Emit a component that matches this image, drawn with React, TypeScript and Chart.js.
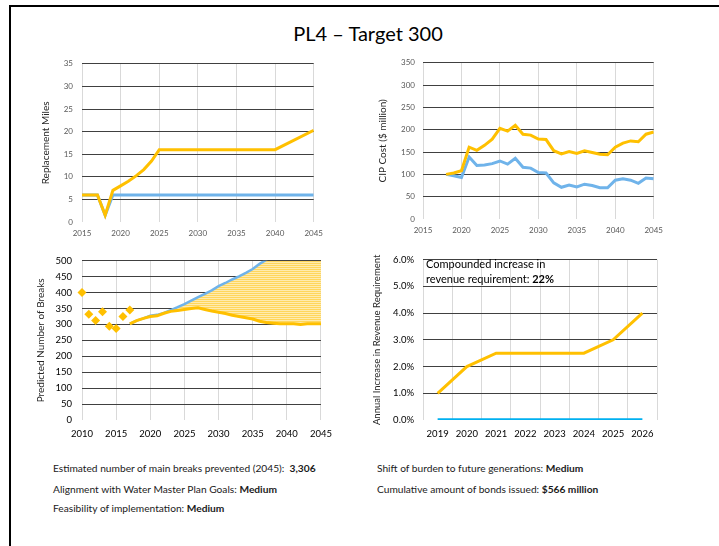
import React, { useEffect, useRef } from "react";
import { Chart, registerables } from "chart.js";
Chart.register(...registerables);

const FONT = "Lato, 'Liberation Sans', sans-serif";
const YELLOW = "#FFC000";
const BLUE = "#6FB3EA";
const BLUE2 = "#00B0F0";
const HGRID = "#404040";
const VGRID = "#d9d9d9";

// Panel 1 – Replacement Miles
const milesTargetYears = [2015, 2017, 2018, 2019, 2020, 2021, 2022, 2023, 2024, 2025, 2040, 2045];
const milesTarget = [6, 6, 1.5, 7, 8, 9, 10.2, 11.6, 13.5, 16, 16, 20.3];
const milesBaseYears = [2015, 2017, 2018, 2019, 2045];
const milesBase = [6, 6, 1.5, 6, 6];

// Panel 2 – CIP Cost ($ million)
const cipYears = [2018, 2019, 2020, 2021, 2022, 2023, 2024, 2025, 2026, 2027, 2028, 2029, 2030, 2031, 2032, 2033, 2034, 2035, 2036, 2037, 2038, 2039, 2040, 2041, 2042, 2043, 2044, 2045];
const cipTarget = [100, 103, 108, 161, 154, 165, 179, 203, 197, 210, 190, 188, 179, 178, 153, 146, 151, 147, 153, 149, 145, 144, 161, 170, 175, 173, 190, 195];
const cipBase = [100, 97, 93, 139, 120, 121, 124, 130, 123, 136, 116, 114, 104, 103, 81, 71, 76, 72, 78, 75, 70, 70, 87, 90, 87, 80, 92, 90];

// Panel 3 – Predicted Number of Breaks
const histYears = [2010, 2011, 2012, 2013, 2014, 2015, 2016, 2017];
const histBreaks = [400, 332, 312, 340, 294, 287, 325, 345];
const predYears = [2017, 2018, 2019, 2020, 2021, 2022, 2023, 2024, 2025, 2026, 2027, 2028, 2029, 2030, 2031, 2032, 2033, 2034, 2035, 2036, 2037, 2038, 2039, 2040, 2041, 2042, 2043, 2044, 2045];
const predTarget = [302, 312, 319, 325, 327, 335, 341, 344, 347, 350, 352, 347, 342, 338, 334, 329, 325, 321, 317, 310, 306, 304, 302, 302, 302, 300, 302, 302, 302];
const predBase = [302, 312, 319, 327, 330, 336, 345, 354, 364, 375, 386, 396, 407, 420, 430, 441, 451, 462, 474, 490, 503, 517, 531, 545, 560, 575, 590, 605, 620];

// Panel 4 – Annual Increase in Revenue Requirement (%)
const revYears = ["2019", "2020", "2021", "2022", "2023", "2024", "2025", "2026"];
const revTarget = [1.0, 2.0, 2.5, 2.5, 2.5, 2.5, 3.0, 4.0];
const revBase = [0, 0, 0, 0, 0, 0, 0, 0];

const pts = (xs: number[], ys: number[]) => xs.map((x, i) => ({ x, y: ys[i] }));

function linX(min: number, max: number, h: number, color: string, size: number, pad: number) {
  return {
    type: "linear",
    min,
    max,
    afterFit: (s: any) => {
      s.height = h;
    },
    border: { display: false },
    grid: { color: VGRID, lineWidth: 1, drawTicks: false },
    ticks: {
      stepSize: 5,
      autoSkip: false,
      maxRotation: 0,
      padding: pad,
      color,
      font: { family: FONT, size },
      callback: (v: any) => String(v),
    },
  };
}

function linY(
  min: number,
  max: number,
  step: number,
  w: number,
  color: string,
  size: number,
  pad: number,
  title: string,
  titleSize: number,
  titlePad: number,
  fmt?: (v: any) => string
) {
  return {
    type: "linear",
    min,
    max,
    afterFit: (s: any) => {
      s.width = w;
    },
    border: { display: false },
    grid: {
      color: (c: any) => (c.tick && c.tick.value === min ? "rgba(0,0,0,0)" : HGRID),
      lineWidth: 1,
      drawTicks: false,
    },
    ticks: {
      stepSize: step,
      padding: pad,
      color,
      font: { family: FONT, size },
      callback: fmt || ((v: any) => String(v)),
    },
    title: {
      display: true,
      text: title,
      color: "#262626",
      font: { family: FONT, size: titleSize },
      padding: { top: titlePad, bottom: 0 },
    },
  };
}

const baseOpts = (padTop: number, padRight: number) => ({
  responsive: false,
  animation: false,
  devicePixelRatio: 1,
  layout: { padding: { top: padTop, right: padRight, left: 0, bottom: 0 } },
  plugins: { legend: { display: false }, tooltip: { enabled: false } },
  elements: { point: { radius: 0 }, line: { tension: 0 } },
});

function ChartBox(props: { left: number; top: number; width: number; height: number; make: () => any }) {
  const ref = useRef<HTMLCanvasElement>(null);
  useEffect(() => {
    const chart = new Chart(ref.current as HTMLCanvasElement, props.make());
    return () => chart.destroy();
  }, []);
  return (
    <canvas
      ref={ref}
      width={props.width}
      height={props.height}
      style={{ position: "absolute", left: props.left, top: props.top, width: props.width, height: props.height }}
    />
  );
}

function stripePattern() {
  const c = document.createElement("canvas");
  c.width = 4;
  c.height = 2;
  const g = c.getContext("2d") as CanvasRenderingContext2D;
  g.fillStyle = "#FFD65C";
  g.fillRect(0, 0, 4, 1);
  g.fillStyle = "#FFEBAE";
  g.fillRect(0, 1, 4, 1);
  return g.createPattern(c, "repeat");
}

const makeMiles = () => ({
  type: "line",
  data: {
    datasets: [
      { data: pts(milesTargetYears, milesTarget), borderColor: YELLOW, borderWidth: 3 },
      { data: pts(milesBaseYears, milesBase), borderColor: BLUE, borderWidth: 3 },
    ],
  },
  options: {
    ...baseOpts(10, 13),
    scales: {
      x: linX(2015, 2045, 23, "#595959", 8, 7),
      y: linY(0, 35, 5, 52, "#595959", 8, 9, "Replacement Miles", 10, 10),
    },
  },
});

const makeCip = () => ({
  type: "line",
  data: {
    datasets: [
      { data: pts(cipYears, cipTarget), borderColor: YELLOW, borderWidth: 3 },
      { data: pts(cipYears, cipBase), borderColor: BLUE, borderWidth: 3 },
    ],
  },
  options: {
    ...baseOpts(10, 13),
    scales: {
      x: linX(2015, 2045, 26, "#595959", 8, 7),
      y: linY(0, 350, 50, 53, "#595959", 8, 8, "CIP Cost ($ million)", 10, 7),
    },
  },
});

const makeBreaks = () => ({
  type: "line",
  data: {
    datasets: [
      {
        data: pts(histYears, histBreaks),
        showLine: false,
        clip: false,
        pointStyle: "rectRot",
        pointRadius: 4.5,
        backgroundColor: YELLOW,
        borderColor: YELLOW,
        borderWidth: 0,
      },
      { data: pts(predYears, predTarget), borderColor: YELLOW, borderWidth: 3 },
      {
        data: pts(predYears, predBase),
        borderColor: BLUE,
        borderWidth: 2.5,
        fill: { target: 1, above: stripePattern(), below: "rgba(0,0,0,0)" },
      },
    ],
  },
  options: {
    ...baseOpts(13, 18),
    scales: {
      x: linX(2010, 2045, 25, "#000000", 9.5, 8),
      y: linY(0, 500, 50, 52, "#000000", 9.5, 10, "Predicted Number of Breaks", 10, 5),
    },
  },
});

const makeRev = () => ({
  type: "line",
  data: {
    labels: revYears,
    datasets: [
      { data: revBase, borderColor: BLUE2, borderWidth: 3.5 },
      { data: revTarget, borderColor: YELLOW, borderWidth: 3 },
    ],
  },
  options: {
    ...baseOpts(13, 13),
    scales: {
      x: {
        type: "category",
        offset: true,
        afterFit: (s: any) => {
          s.height = 25;
        },
        border: { display: false },
        grid: { offset: true, color: VGRID, lineWidth: 1, drawTicks: false },
        ticks: { padding: 8, color: "#000000", font: { family: FONT, size: 9.5 }, maxRotation: 0, autoSkip: false },
      },
      y: linY(0, 6, 1, 53, "#000000", 9.5, 9, "Annual Increase in Revenue Requirement", 9.5, 1, (v: any) =>
        Number(v).toFixed(1) + "%"
      ),
    },
  },
});

const textStyle: React.CSSProperties = {
  position: "absolute",
  fontFamily: FONT,
  fontSize: 10.2,
  lineHeight: "14px",
  color: "#1a1a1a",
  whiteSpace: "nowrap",
};

export default function App() {
  return (
    <div
      style={{
        position: "fixed",
        left: 0,
        top: 0,
        width: 719,
        height: 546,
        overflow: "hidden",
        background: "#ffffff",
      }}
    >
      <div
        style={{
          position: "absolute",
          left: 9,
          top: 5,
          width: 720,
          height: 560,
          borderLeft: "2px solid #000",
          borderTop: "2px solid #000",
        }}
      />
      <div
        style={{
          position: "absolute",
          left: 168,
          top: 21,
          width: 400,
          textAlign: "center",
          fontFamily: FONT,
          fontSize: 20,
          lineHeight: "24px",
          color: "#000",
        }}
      >
        PL4 – Target 300
      </div>

      <ChartBox left={30} top={50} width={300} height={195} make={makeMiles} />
      <ChartBox left={370} top={50} width={300} height={195} make={makeCip} />
      <ChartBox left={30} top={245} width={310} height={200} make={makeBreaks} />
      <ChartBox left={370} top={245} width={300} height={200} make={makeRev} />

      <div style={{ ...textStyle, left: 426, top: 256, fontSize: 11, lineHeight: "15px", color: "#000" }}>
        Compounded increase in
        <br />
        revenue requirement: <b>22%</b>
      </div>

      <div style={{ ...textStyle, left: 53, top: 461 }}>
        Estimated number of main breaks prevented (2045):&nbsp; <b>3,306</b>
      </div>
      <div style={{ ...textStyle, left: 53, top: 482 }}>
        Alignment with Water Master Plan Goals: <b>Medium</b>
      </div>
      <div style={{ ...textStyle, left: 53, top: 501 }}>
        Feasibility of implementation: <b>Medium</b>
      </div>
      <div style={{ ...textStyle, left: 377, top: 461 }}>
        Shift of burden to future generations: <b>Medium</b>
      </div>
      <div style={{ ...textStyle, left: 377, top: 482 }}>
        Cumulative amount of bonds issued: <b>$566 million</b>
      </div>
    </div>
  );
}
